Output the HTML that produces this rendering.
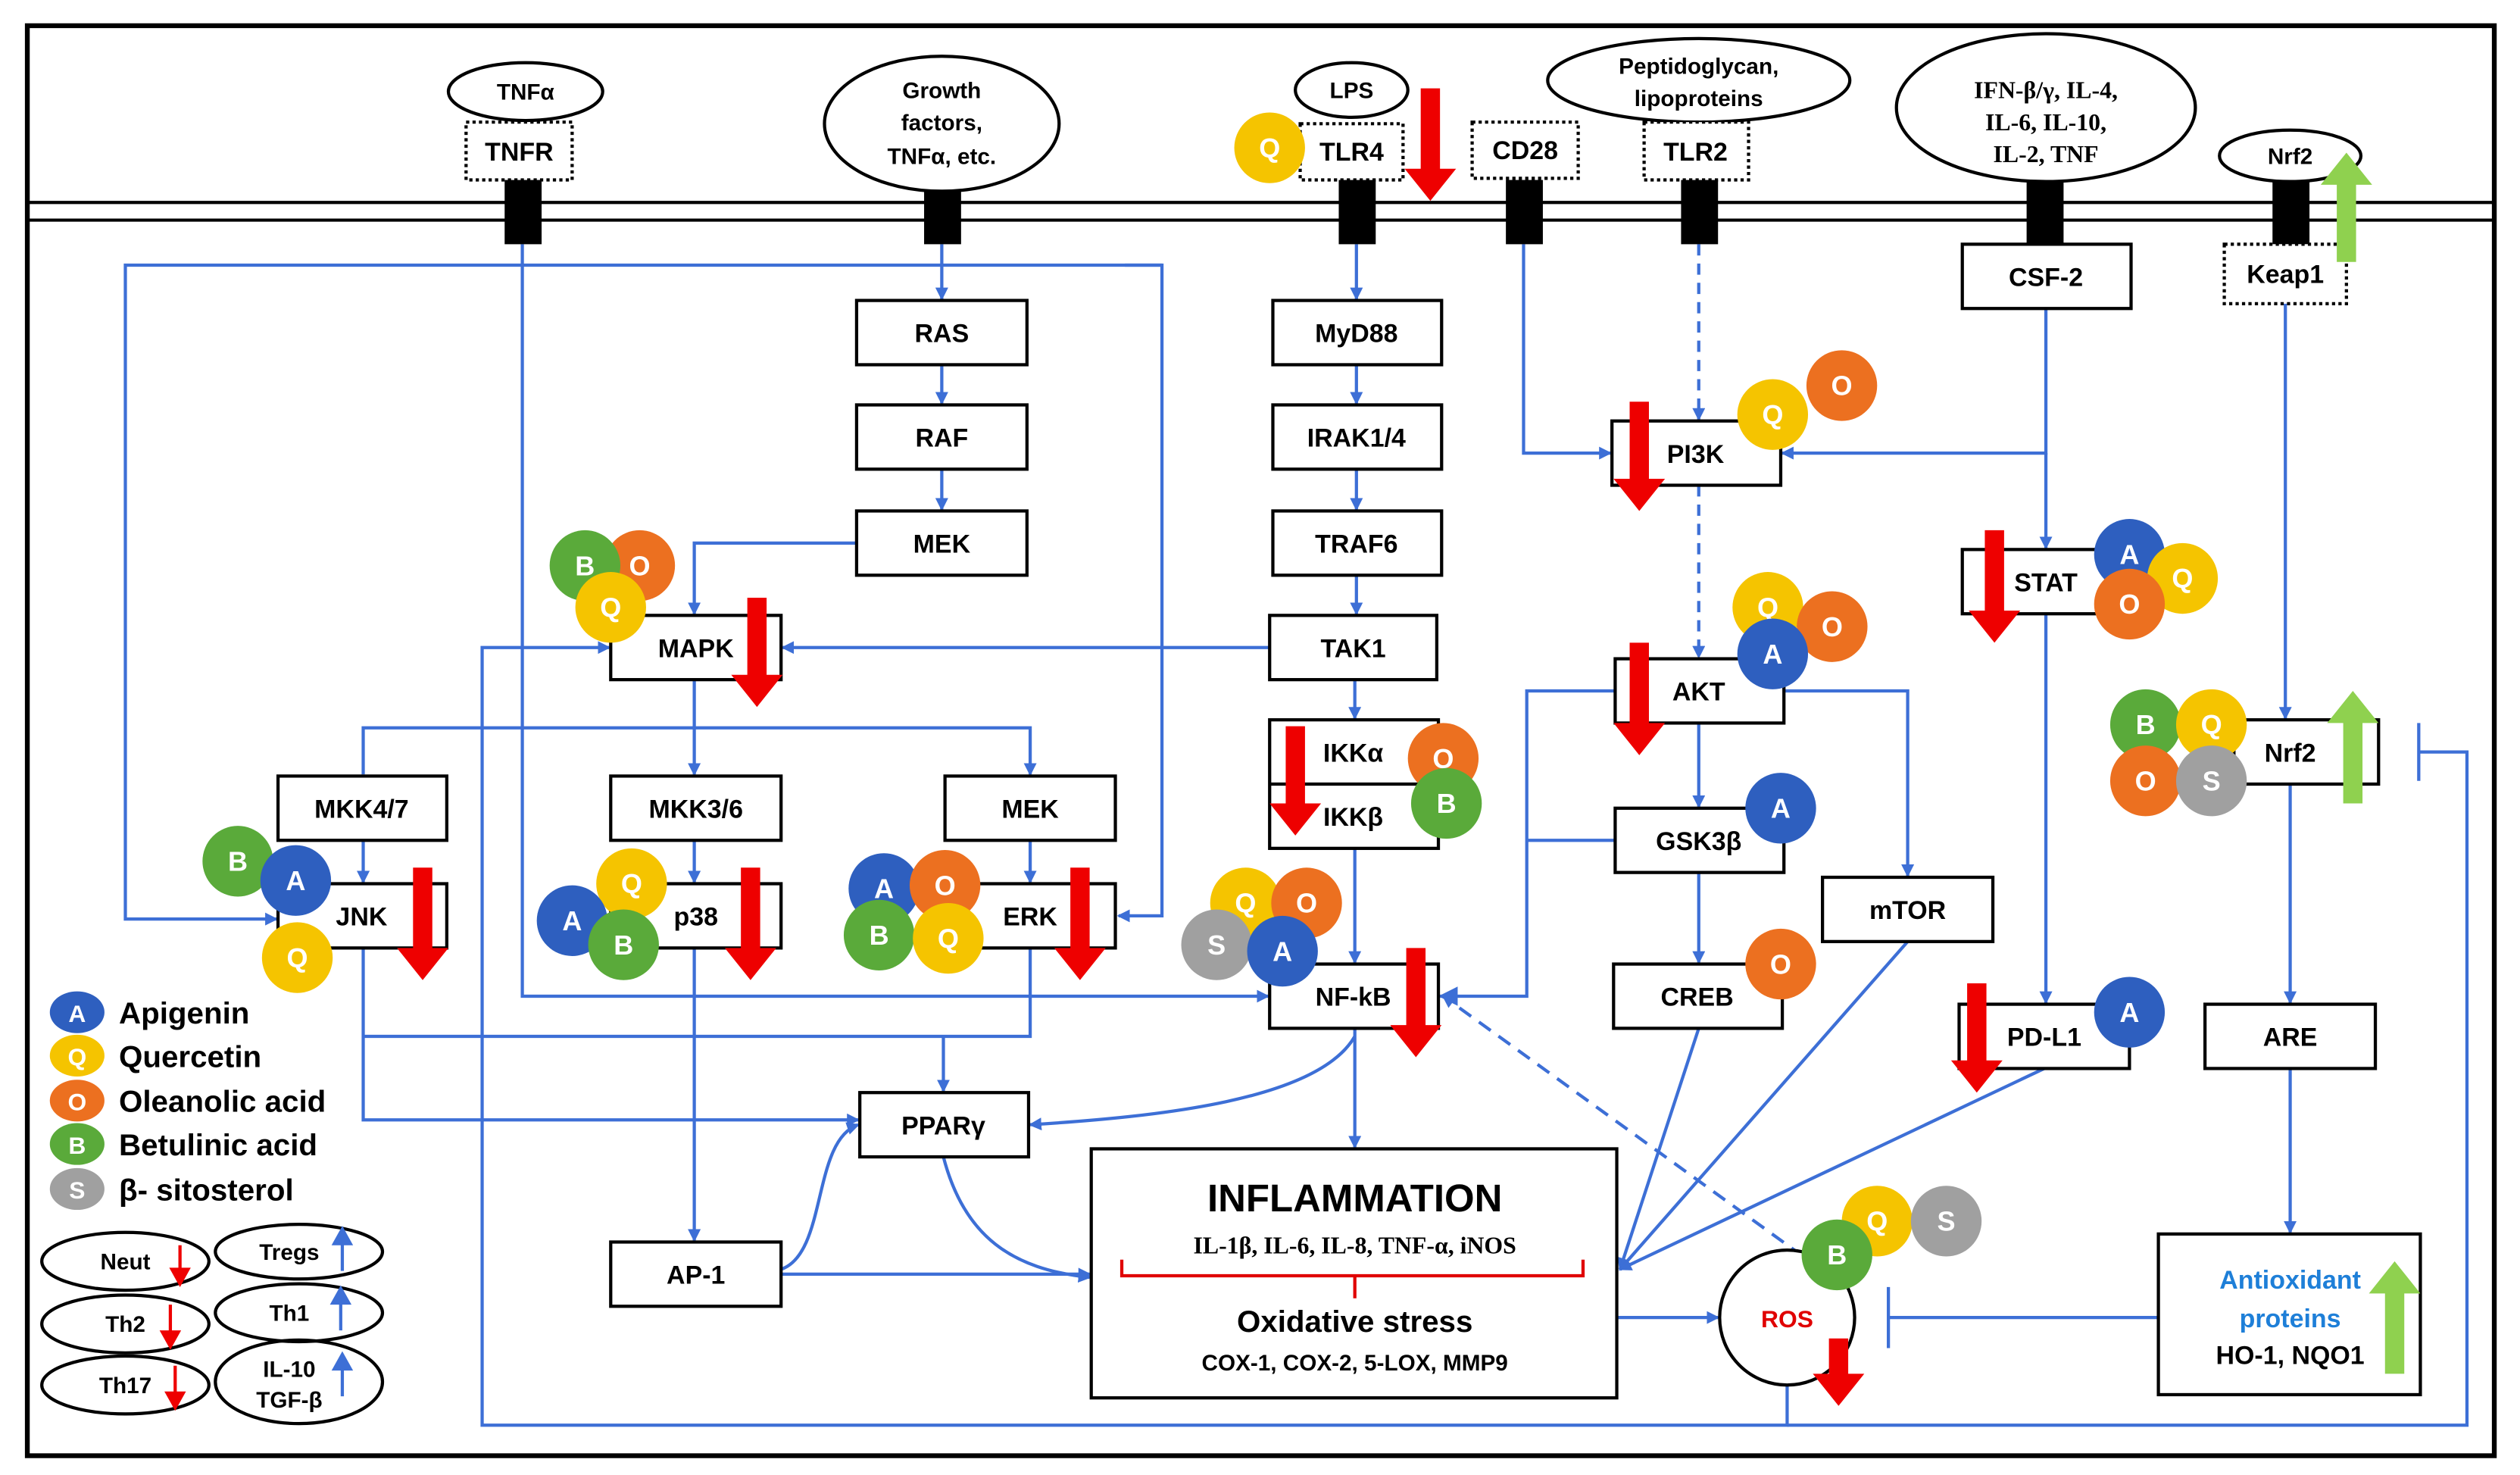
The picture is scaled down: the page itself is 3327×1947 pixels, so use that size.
<!DOCTYPE html>
<html><head><meta charset="utf-8"><style>
html,body{margin:0;padding:0;background:#fff;}
svg{display:block;}
text{font-family:"Liberation Sans",sans-serif;font-weight:bold;}
</style></head><body>
<svg width="3327" height="1947" viewBox="0 0 1568 918" preserveAspectRatio="none" xmlns="http://www.w3.org/2000/svg">
<defs>
<marker id="ah" markerWidth="8" markerHeight="8" refX="7" refY="4" orient="auto" markerUnits="userSpaceOnUse"><path d="M0,0 L8,4 L0,8 Z" fill="#3d6fd6"/></marker>
<marker id="ah2" markerWidth="12" markerHeight="12" refX="11" refY="6" orient="auto" markerUnits="userSpaceOnUse"><path d="M0,0 L12,6 L0,12 Z" fill="#3d6fd6"/></marker>
</defs>
<rect x="0" y="0" width="1568" height="918" fill="#fff"/>
<rect x="17" y="16" width="1535" height="890" fill="none" stroke="#000" stroke-width="3"/>
<line x1="17" y1="126" x2="1552" y2="126" stroke="#000" stroke-width="2"/>
<line x1="17" y1="137" x2="1552" y2="137" stroke="#000" stroke-width="2"/>

<g fill="none" stroke="#3d6fd6" stroke-width="2">
<polyline points="723,165 78,165 78,572 172,572" marker-end="url(#ah)"/>
<polyline points="700,165 723,165 723,570 696,570" marker-end="url(#ah)"/>
<polyline points="325,152 325,620 789,620" marker-end="url(#ah)"/>
<line x1="586" y1="152" x2="586" y2="186" marker-end="url(#ah)"/>
<line x1="586" y1="227" x2="586" y2="251" marker-end="url(#ah)"/>
<line x1="586" y1="292" x2="586" y2="317" marker-end="url(#ah)"/>
<polyline points="533,338 432,338 432,382" marker-end="url(#ah)"/>
<line x1="790" y1="403" x2="487" y2="403" marker-end="url(#ah)"/>
<polyline points="1112,862 1112,887 300,887 300,403 379,403" marker-end="url(#ah)"/>
<polyline points="1112,887 1535,887 1535,468 1505,468"/>
<line x1="1505" y1="450" x2="1505" y2="486"/>
<line x1="432" y1="423" x2="432" y2="482" marker-end="url(#ah)"/>
<polyline points="226,482 226,453 641,453 641,482" marker-end="url(#ah)"/>
<line x1="226" y1="523" x2="226" y2="549" marker-end="url(#ah)"/>
<line x1="432" y1="523" x2="432" y2="549" marker-end="url(#ah)"/>
<line x1="641" y1="523" x2="641" y2="549" marker-end="url(#ah)"/>
<polyline points="226,590 226,697 534,697" marker-end="url(#ah)"/>
<polyline points="226,645 641,645 641,590"/>
<line x1="587" y1="645" x2="587" y2="679" marker-end="url(#ah)"/>
<line x1="432" y1="590" x2="432" y2="772" marker-end="url(#ah)"/>
<line x1="486" y1="793" x2="678" y2="793" marker-end="url(#ah)"/>
<path d="M486,790 C515,780 505,710 534,700" marker-end="url(#ah)"/>
<path d="M587,720 C600,770 630,790 678,795" marker-end="url(#ah)"/>
<line x1="843" y1="640" x2="843" y2="714" marker-end="url(#ah)"/>
<path d="M843,645 C820,685 720,695 641,700" marker-end="url(#ah)"/>
<line x1="843" y1="423" x2="843" y2="447" marker-end="url(#ah)"/>
<line x1="843" y1="528" x2="843" y2="599" marker-end="url(#ah)"/>
<line x1="844" y1="152" x2="844" y2="186" marker-end="url(#ah)"/>
<line x1="844" y1="227" x2="844" y2="251" marker-end="url(#ah)"/>
<line x1="844" y1="292" x2="844" y2="317" marker-end="url(#ah)"/>
<line x1="844" y1="358" x2="844" y2="382" marker-end="url(#ah)"/>
<polyline points="948,152 948,282 1002,282" marker-end="url(#ah)"/>
<line x1="1057" y1="152" x2="1057" y2="261" stroke-dasharray="7,5" marker-end="url(#ah)"/>
<line x1="1057" y1="302" x2="1057" y2="409" stroke-dasharray="7,5" marker-end="url(#ah)"/>
<polyline points="1273,192 1273,282 1109,282" marker-end="url(#ah)"/>
<line x1="1273" y1="282" x2="1273" y2="341" marker-end="url(#ah)"/>
<line x1="1273" y1="382" x2="1273" y2="624" marker-end="url(#ah)"/>
<polyline points="1005,430 950,430 950,620 896,620" marker-end="url(#ah2)"/>
<line x1="1005" y1="523" x2="950" y2="523"/>
<polyline points="1110,430 1187,430 1187,545" marker-end="url(#ah)"/>
<line x1="1057" y1="450" x2="1057" y2="502" marker-end="url(#ah)"/>
<line x1="1057" y1="543" x2="1057" y2="599" marker-end="url(#ah)"/>
<line x1="1057" y1="640" x2="1008" y2="790" marker-end="url(#ah)"/>
<line x1="1187" y1="586" x2="1008" y2="790" marker-end="url(#ah)"/>
<line x1="1272" y1="665" x2="1008" y2="790" marker-end="url(#ah)"/>
<line x1="1122" y1="782" x2="898" y2="620" stroke-dasharray="9,6" marker-end="url(#ah)"/>
<line x1="1006" y1="820" x2="1069" y2="820" marker-end="url(#ah)"/>
<line x1="1343" y1="820" x2="1175" y2="820"/>
<line x1="1175" y1="801" x2="1175" y2="839"/>
<line x1="1422" y1="189" x2="1422" y2="447" marker-end="url(#ah)"/>
<line x1="1425" y1="488" x2="1425" y2="624" marker-end="url(#ah)"/>
<line x1="1425" y1="665" x2="1425" y2="767" marker-end="url(#ah)"/>
</g>

<g fill="#000">
<rect x="314" y="112" width="23" height="40"/><rect x="575" y="112" width="23" height="40"/>
<rect x="833" y="112" width="23" height="40"/><rect x="937" y="112" width="23" height="40"/>
<rect x="1046" y="112" width="23" height="40"/><rect x="1261" y="112" width="23" height="40"/>
<rect x="1414" y="112" width="23" height="40"/>
</g>

<g fill="#fff" stroke="#000" stroke-width="2">
<ellipse cx="327" cy="57" rx="48" ry="18"/>
<ellipse cx="586" cy="77" rx="73" ry="42"/>
<ellipse cx="841" cy="56" rx="35" ry="17"/>
<ellipse cx="1057" cy="50" rx="94" ry="26"/>
<ellipse cx="1273" cy="67" rx="93" ry="46"/>
<ellipse cx="1425" cy="97" rx="44" ry="16"/>
</g>
<g fill="#fff" stroke="#000" stroke-width="2" stroke-dasharray="2,2">
<rect x="290" y="76" width="66" height="36"/>
<rect x="809" y="77" width="64" height="35"/>
<rect x="916" y="76" width="66" height="35"/>
<rect x="1023" y="76" width="65" height="36"/>
<rect x="1384" y="152" width="76" height="37"/>
</g>
<g font-size="14" text-anchor="middle">
<text x="327" y="62" font-weight="normal">TNFα</text>
<text x="586" y="61" font-weight="normal">Growth</text>
<text x="586" y="81" font-weight="normal">factors,</text>
<text x="586" y="102" font-weight="normal">TNFα, etc.</text>
<text x="841" y="61" font-weight="normal">LPS</text>
<text x="1057" y="46" font-weight="normal">Peptidoglycan,</text>
<text x="1057" y="66" font-weight="normal">lipoproteins</text>
<g font-size="15"><text x="1273" y="61" style="font-family:'Liberation Serif',serif">IFN-β/γ, IL-4,</text><text x="1273" y="81" style="font-family:'Liberation Serif',serif">IL-6, IL-10,</text><text x="1273" y="101" style="font-family:'Liberation Serif',serif">IL-2, TNF</text></g>
<text x="1425" y="102" font-weight="normal">Nrf2</text>
<g font-size="16"><text x="323" y="100">TNFR</text><text x="841" y="100">TLR4</text><text x="949" y="99">CD28</text><text x="1055" y="100">TLR2</text><text x="1422" y="176">Keap1</text></g>
</g>

<g fill="#fff" stroke="#000" stroke-width="2">
<rect x="533" y="187" width="106" height="40"/><rect x="533" y="252" width="106" height="40"/><rect x="533" y="318" width="106" height="40"/>
<rect x="792" y="187" width="105" height="40"/><rect x="792" y="252" width="105" height="40"/><rect x="792" y="318" width="105" height="40"/>
<rect x="790" y="383" width="104" height="40"/><rect x="790" y="448" width="105" height="80"/>
<rect x="380" y="383" width="106" height="40"/>
<rect x="173" y="483" width="105" height="40"/><rect x="380" y="483" width="106" height="40"/><rect x="588" y="483" width="106" height="40"/>
<rect x="173" y="550" width="105" height="40"/><rect x="380" y="550" width="106" height="40"/><rect x="588" y="550" width="106" height="40"/>
<rect x="790" y="600" width="105" height="40"/><rect x="535" y="680" width="105" height="40"/>
<rect x="380" y="773" width="106" height="40"/>
<rect x="679" y="715" width="327" height="155"/>
<rect x="1003" y="262" width="105" height="40"/><rect x="1005" y="410" width="105" height="40"/>
<rect x="1005" y="503" width="105" height="40"/><rect x="1004" y="600" width="105" height="40"/>
<rect x="1134" y="546" width="106" height="40"/>
<rect x="1221" y="152" width="105" height="40"/><rect x="1221" y="342" width="105" height="40"/>
<rect x="1219" y="625" width="106" height="40"/>
<rect x="1390" y="448" width="90" height="40"/><rect x="1372" y="625" width="106" height="40"/>
<rect x="1343" y="768" width="163" height="100"/>
<circle cx="1112" cy="820" r="42"/>
</g>
<line x1="790" y1="488" x2="895" y2="488" stroke="#000" stroke-width="2"/>
<g font-size="16" text-anchor="middle">
<text x="586" y="213">RAS</text><text x="586" y="278">RAF</text><text x="586" y="344">MEK</text>
<text x="844" y="213">MyD88</text><text x="844" y="278">IRAK1/4</text><text x="844" y="344">TRAF6</text>
<text x="842" y="409">TAK1</text><text x="842" y="474">IKKα</text><text x="842" y="514">IKKβ</text>
<text x="433" y="409">MAPK</text>
<text x="225" y="509">MKK4/7</text><text x="433" y="509">MKK3/6</text><text x="641" y="509">MEK</text>
<text x="225" y="576">JNK</text><text x="433" y="576">p38</text><text x="641" y="576">ERK</text>
<text x="842" y="626">NF-kB</text><text x="587" y="706">PPARγ</text><text x="433" y="799">AP-1</text>
<text x="1055" y="288">PI3K</text><text x="1057" y="436">AKT</text><text x="1057" y="529">GSK3β</text><text x="1056" y="626">CREB</text>
<text x="1187" y="572">mTOR</text><text x="1273" y="178">CSF-2</text><text x="1273" y="368">STAT</text>
<text x="1272" y="651">PD-L1</text><text x="1425" y="474">Nrf2</text><text x="1425" y="651">ARE</text>
<text x="1112" y="826" fill="#e00000" font-size="15">ROS</text>
<text x="1425" y="802" fill="#1e7fd8">Antioxidant</text>
<text x="1425" y="826" fill="#1e7fd8">proteins</text>
<text x="1425" y="849">HO-1, NQO1</text>
<text x="843" y="754" font-size="24">INFLAMMATION</text>
<text x="843" y="780" font-size="15" style="font-family:'Liberation Serif',serif">IL-1β, IL-6, IL-8, TNF-α, iNOS</text>
<text x="843" y="829" font-size="19">Oxidative stress</text>
<text x="843" y="853" font-size="14">COX-1, COX-2, 5-LOX, MMP9</text>
</g>
<path d="M698,784 L698,794 L985,794 L985,784 M843,794 L843,808" fill="none" stroke="#e00000" stroke-width="2"/>

<g fill="#ee0000">
<path d="M884,55h12v50h10l-16,20l-16,-20h10z"/>
<path d="M465,372h12v48h10l-16,20l-16,-20h10z"/>
<path d="M1014,250h12v48h10l-16,20l-16,-20h10z"/>
<path d="M1235,330h12v50h10l-16,20l-16,-20h10z"/>
<path d="M1014,400h12v50h10l-16,20l-16,-20h10z"/>
<path d="M800,452h12v48h10l-16,20l-16,-20h10z"/>
<path d="M257,540h12v50h10l-16,20l-16,-20h10z"/>
<path d="M461,540h12v50h10l-16,20l-16,-20h10z"/>
<path d="M666,540h12v50h10l-16,20l-16,-20h10z"/>
<path d="M875,590h12v48h10l-16,20l-16,-20h10z"/>
<path d="M1224,612h12v48h10l-16,20l-16,-20h10z"/>
<path d="M1138,833h12v22h10l-16,20l-16,-20h10z"/>
</g>
<g fill="#8fd14f">
<path d="M1454,163h12v-48h10l-16,-20l-16,20h10z"/>
<path d="M1458,500h12v-50h10l-16,-20l-16,20h10z"/>
<path d="M1484,855h12v-50h10l-16,-20l-16,20h10z"/>
</g>

<g font-size="17" text-anchor="middle" fill="#fff">
<circle cx="790" cy="92" r="22" fill="#f5c400"/><text x="790" y="98" fill="#fff">Q</text>
<circle cx="1146" cy="240" r="22" fill="#ec7020"/><text x="1146" y="246" fill="#fff">O</text>
<circle cx="1103" cy="258" r="22" fill="#f5c400"/><text x="1103" y="264" fill="#fff">Q</text>
<circle cx="1100" cy="378" r="22" fill="#f5c400"/><text x="1100" y="384" fill="#fff">Q</text>
<circle cx="1140" cy="390" r="22" fill="#ec7020"/><text x="1140" y="396" fill="#fff">O</text>
<circle cx="1103" cy="407" r="22" fill="#2e5fbf"/><text x="1103" y="413" fill="#fff">A</text>
<circle cx="1325" cy="345" r="22" fill="#2e5fbf"/><text x="1325" y="351" fill="#fff">A</text>
<circle cx="1358" cy="360" r="22" fill="#f5c400"/><text x="1358" y="366" fill="#fff">Q</text>
<circle cx="1325" cy="376" r="22" fill="#ec7020"/><text x="1325" y="382" fill="#fff">O</text>
<circle cx="1335" cy="451" r="22" fill="#5aaa3a"/><text x="1335" y="457" fill="#fff">B</text>
<circle cx="1376" cy="451" r="22" fill="#f5c400"/><text x="1376" y="457" fill="#fff">Q</text>
<circle cx="1335" cy="486" r="22" fill="#ec7020"/><text x="1335" y="492" fill="#fff">O</text>
<circle cx="1376" cy="486" r="22" fill="#a0a0a0"/><text x="1376" y="492" fill="#fff">S</text>
<circle cx="398" cy="352" r="22" fill="#ec7020"/><text x="398" y="358" fill="#fff">O</text>
<circle cx="364" cy="352" r="22" fill="#5aaa3a"/><text x="364" y="358" fill="#fff">B</text>
<circle cx="380" cy="378" r="22" fill="#f5c400"/><text x="380" y="384" fill="#fff">Q</text>
<circle cx="898" cy="472" r="22" fill="#ec7020"/><text x="898" y="478" fill="#fff">O</text>
<circle cx="900" cy="500" r="22" fill="#5aaa3a"/><text x="900" y="506" fill="#fff">B</text>
<circle cx="1108" cy="503" r="22" fill="#2e5fbf"/><text x="1108" y="509" fill="#fff">A</text>
<circle cx="1108" cy="600" r="22" fill="#ec7020"/><text x="1108" y="606" fill="#fff">O</text>
<circle cx="1325" cy="630" r="22" fill="#2e5fbf"/><text x="1325" y="636" fill="#fff">A</text>
<circle cx="775" cy="562" r="22" fill="#f5c400"/><text x="775" y="568" fill="#fff">Q</text>
<circle cx="813" cy="562" r="22" fill="#ec7020"/><text x="813" y="568" fill="#fff">O</text>
<circle cx="757" cy="588" r="22" fill="#a0a0a0"/><text x="757" y="594" fill="#fff">S</text>
<circle cx="798" cy="592" r="22" fill="#2e5fbf"/><text x="798" y="598" fill="#fff">A</text>
<circle cx="148" cy="536" r="22" fill="#5aaa3a"/><text x="148" y="542" fill="#fff">B</text>
<circle cx="184" cy="548" r="22" fill="#2e5fbf"/><text x="184" y="554" fill="#fff">A</text>
<circle cx="185" cy="596" r="22" fill="#f5c400"/><text x="185" y="602" fill="#fff">Q</text>
<circle cx="393" cy="550" r="22" fill="#f5c400"/><text x="393" y="556" fill="#fff">Q</text>
<circle cx="356" cy="573" r="22" fill="#2e5fbf"/><text x="356" y="579" fill="#fff">A</text>
<circle cx="388" cy="588" r="22" fill="#5aaa3a"/><text x="388" y="594" fill="#fff">B</text>
<circle cx="550" cy="553" r="22" fill="#2e5fbf"/><text x="550" y="559" fill="#fff">A</text>
<circle cx="588" cy="551" r="22" fill="#ec7020"/><text x="588" y="557" fill="#fff">O</text>
<circle cx="547" cy="582" r="22" fill="#5aaa3a"/><text x="547" y="588" fill="#fff">B</text>
<circle cx="590" cy="584" r="22" fill="#f5c400"/><text x="590" y="590" fill="#fff">Q</text>
<circle cx="1168" cy="760" r="22" fill="#f5c400"/><text x="1168" y="766" fill="#fff">Q</text>
<circle cx="1211" cy="760" r="22" fill="#a0a0a0"/><text x="1211" y="766" fill="#fff">S</text>
<circle cx="1143" cy="781" r="22" fill="#5aaa3a"/><text x="1143" y="787" fill="#fff">B</text>
<ellipse cx="48" cy="630" rx="17" ry="13" fill="#2e5fbf"/><text x="48" y="636" font-size="15" fill="#fff">A</text>
<ellipse cx="48" cy="657" rx="17" ry="13" fill="#f5c400"/><text x="48" y="663" font-size="15" fill="#fff">Q</text>
<ellipse cx="48" cy="685" rx="17" ry="13" fill="#ec7020"/><text x="48" y="691" font-size="15" fill="#fff">O</text>
<ellipse cx="48" cy="712" rx="17" ry="13" fill="#5aaa3a"/><text x="48" y="718" font-size="15" fill="#fff">B</text>
<ellipse cx="48" cy="740" rx="17" ry="13" fill="#a0a0a0"/><text x="48" y="746" font-size="15" fill="#fff">S</text>
</g>
<g font-size="19" fill="#000">
<text x="74" y="637">Apigenin</text><text x="74" y="664">Quercetin</text><text x="74" y="692">Oleanolic acid</text>
<text x="74" y="719">Betulinic acid</text><text x="74" y="747">β- sitosterol</text>
</g>
<g fill="none" stroke="#000" stroke-width="2">
<ellipse cx="78" cy="785" rx="52" ry="18"/><ellipse cx="78" cy="824" rx="52" ry="18"/><ellipse cx="78" cy="862" rx="52" ry="18"/>
<ellipse cx="186" cy="779" rx="52" ry="17"/><ellipse cx="186" cy="817" rx="52" ry="18"/><ellipse cx="186" cy="860" rx="52" ry="26"/>
</g>
<g font-size="14" text-anchor="middle">
<text x="78" y="790">Neut</text><text x="78" y="829">Th2</text><text x="78" y="867">Th17</text>
<text x="180" y="784">Tregs</text><text x="180" y="822">Th1</text><text x="180" y="857">IL-10</text><text x="180" y="876">TGF-β</text>
</g>
<g stroke="#ee0000" stroke-width="2" fill="#ee0000">
<line x1="112" y1="775" x2="112" y2="793"/><path d="M107,790l5,9l5,-9z"/>
<line x1="106" y1="812" x2="106" y2="832"/><path d="M101,829l5,9l5,-9z"/>
<line x1="109" y1="850" x2="109" y2="870"/><path d="M104,867l5,9l5,-9z"/>
</g>
<g stroke="#3d6fd6" stroke-width="2" fill="#3d6fd6">
<line x1="213" y1="791" x2="213" y2="771"/><path d="M208,774l5,-9l5,9z"/>
<line x1="212" y1="828" x2="212" y2="808"/><path d="M207,811l5,-9l5,9z"/>
<line x1="213" y1="869" x2="213" y2="849"/><path d="M208,852l5,-9l5,9z"/>
</g>
</svg>
</body></html>
